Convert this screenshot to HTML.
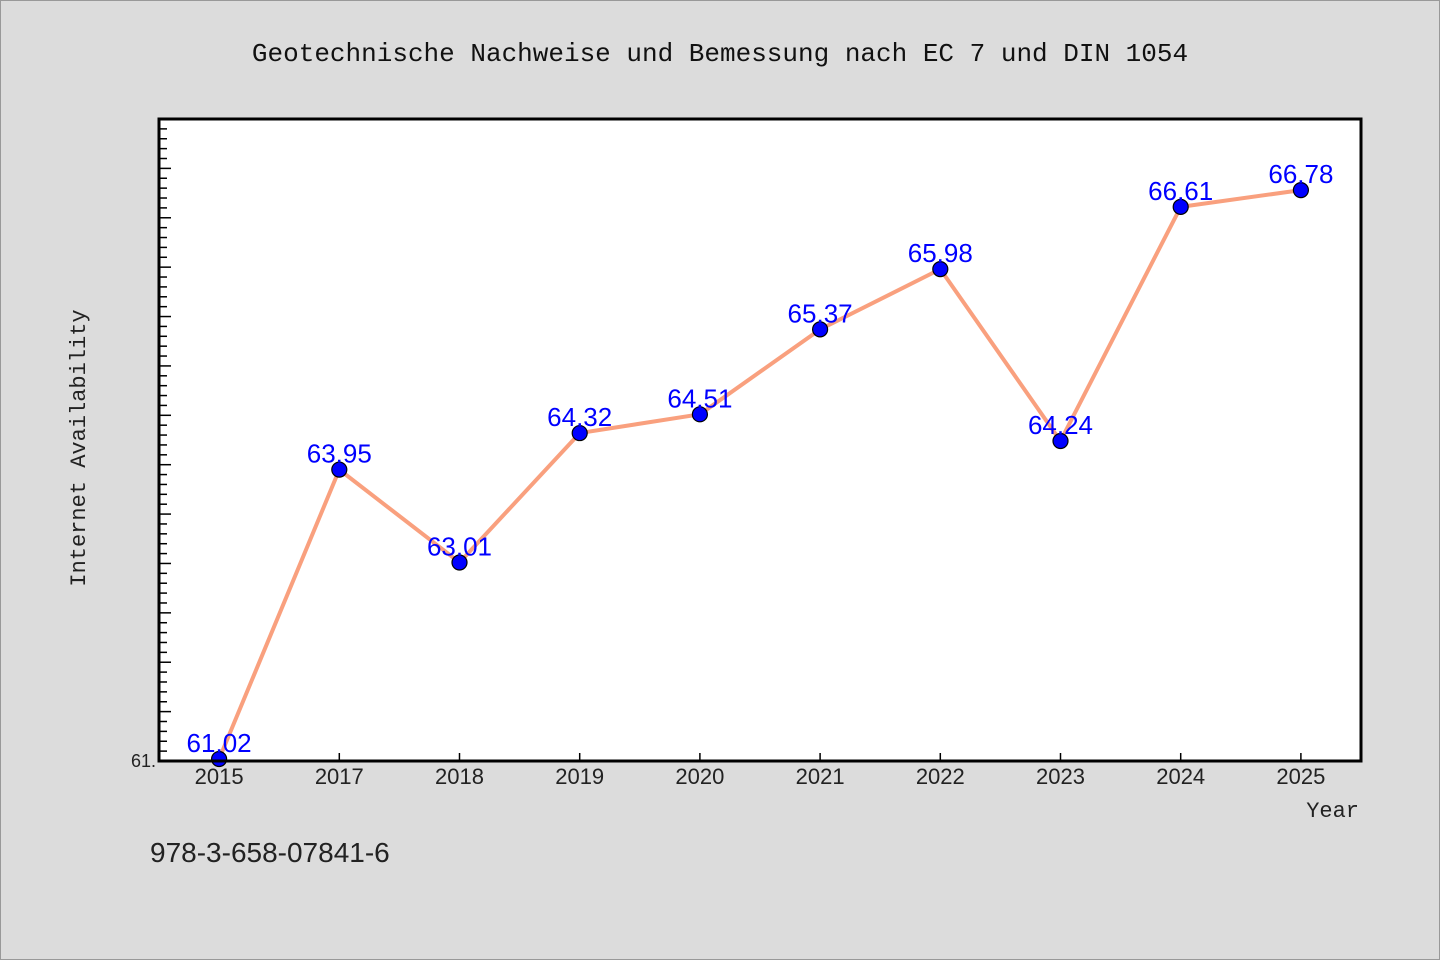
<!DOCTYPE html>
<html><head><meta charset="utf-8"><style>
body{margin:0;background:#dcdcdc;}
svg{display:block;font-family:"Liberation Mono","DejaVu Sans Mono",monospace;}
</style></head><body>
<svg id="chart" width="1440" height="960">
<rect x="0.5" y="0.5" width="1439" height="959" fill="#dcdcdc" stroke="#999"/>
<text x="720" y="61" text-anchor="middle" font-size="26" fill="#111">Geotechnische Nachweise und Bemessung nach EC 7 und DIN 1054</text>
<rect x="159" y="119" width="1202" height="642" fill="#fff"/>
<g id="ticks"></g>
<g id="series"></g>
<rect x="159" y="119" width="1202" height="642" fill="none" stroke="#000" stroke-width="3"/>
<text x="85" y="448" text-anchor="middle" font-size="22" fill="#222" transform="rotate(-90 85 448)">Internet Availability</text>
<text x="1359" y="817" text-anchor="end" font-size="22" fill="#222">Year</text>
<text x="150" y="862" font-size="28" fill="#222" font-family="Liberation Sans, sans-serif">978-3-658-07841-6</text>
</svg>
<script>
const categories=["2015","2017","2018","2019","2020","2021","2022","2023","2024","2025"];
const values=[61.02,63.95,63.01,64.32,64.51,65.37,65.98,64.24,66.61,66.78];
const yMin=61,yMax=67.5;
const L=159,R=1361,T=119,B=761;
const NS="http://www.w3.org/2000/svg";
const step=(R-L)/categories.length;
function x(i){return L+step*(i+0.5);}
function y(v){return B-(v-yMin)/(yMax-yMin)*(B-T);}
function mk(tag,attrs,parent){const e=document.createElementNS(NS,tag);for(const k in attrs)e.setAttribute(k,attrs[k]);parent.appendChild(e);return e;}
const tg=document.getElementById('ticks');
for(let k=0;k<=Math.round((yMax-yMin)*10);k++){
  const v=yMin+k*0.1;const yy=y(v);const major=k%5===0;
  if(yy<T+3)continue;
  const t=mk('line',{x1:L,x2:L+(major?12:8),y1:yy,y2:yy,stroke:'#000','stroke-width':1.5},tg);
  
  
}
const yl=mk('text',{x:L-3,y:B+6,'text-anchor':'end','font-size':18,fill:'#222','font-family':'Liberation Sans, sans-serif'},tg);
yl.textContent=String(yMin)+".";


categories.forEach((c,i)=>{
  const t=mk('line',{x1:x(i),x2:x(i),y1:B,y2:B-8,stroke:'#000','stroke-width':1.5},tg);
  
  
  const l=mk('text',{x:x(i),y:B+23,'text-anchor':'middle','font-size':22,fill:'#222','font-family':'Liberation Sans, sans-serif'},tg);
  l.textContent=c;
  
  
});
const sg=document.getElementById('series');
const pl=mk('polyline',{points:values.map((v,i)=>x(i)+','+y(v)).join(' '),fill:'none',stroke:'#f9a07e','stroke-width':4,'stroke-linejoin':'round'},sg);


values.forEach((v,i)=>{
  const p=mk('circle',{cx:x(i),cy:y(v),r:7.5,fill:'#0000ff',stroke:'#000','stroke-width':1.2},sg);
  
  
  const l=mk('text',{x:x(i),y:y(v)-7,'text-anchor':'middle','font-size':26,fill:'#0000ff','font-family':'Liberation Sans, sans-serif'},sg);
  l.textContent=v.toFixed(2);
  
  
});
</script>
</body></html>
